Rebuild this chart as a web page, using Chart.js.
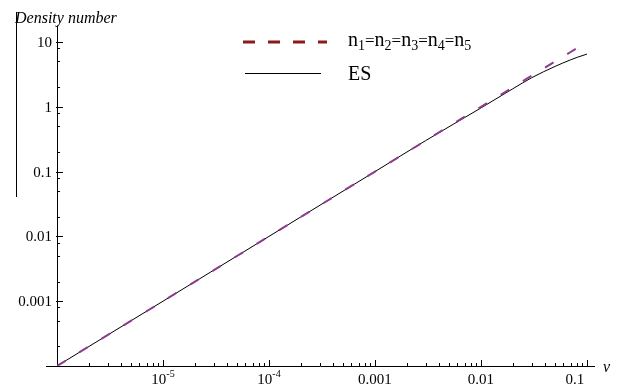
<!DOCTYPE html>
<html>
<head>
<meta charset="utf-8">
<script src="https://cdn.jsdelivr.net/npm/chart.js@4/dist/chart.umd.min.js"></script>
<style>
  body { margin: 0; background: #fff; }
  #wrap { width: 624px; height: 385px; }
</style>
</head>
<body>
<div id="wrap"><canvas id="densityChart"></canvas></div>
<script>
// values
const vValues = [1e-6, 1e-5, 1e-4, 1e-3, 3e-3, 0.01, 0.02, 0.03, 0.05, 0.07, 0.081, 0.1];
const nValues = [1e-4, 1e-3, 0.01, 0.1, 0.3, 1.0, 2.0, 3.0, 5.0, 7.0, 8.1, null];
const esValues = [1e-4, 1e-3, 0.01, 0.1, 0.3, 0.96, 1.9, 2.8, 4.2, 5.3, 5.8, 6.5];

// tick labels
const xTickValues = [1e-5, 1e-4, 1e-3, 1e-2, 1e-1];
const xTickLabels = [["10", "-5"], ["10", "-4"], ["0.001", ""], ["0.01", ""], ["0.1", ""]];
const yTickValues = [10, 1, 0.1, 0.01, 0.001];
const yTickLabels = ["10", "1", "0.1", "0.01", "0.001"];

const seriesNames = ["n1=n2=n3=n4=n5", "ES"];

const nPoints = vValues.map((v, i) => ({ x: v, y: nValues[i] })).filter(p => p.y !== null);
const esPoints = vValues.map((v, i) => ({ x: v, y: esValues[i] }));

const SERIF = '"Liberation Serif", "DejaVu Serif", serif';

// axes, ticks, labels and legend like the Mathematica original
const axesPlugin = {
  id: "mmaAxes",
  beforeDatasetsDraw(chart) {
    const ctx = chart.ctx;
    const xs = chart.scales.x;
    const ys = chart.scales.y;
    const x0 = xs.getPixelForValue(1e-6);
    const y0 = ys.getPixelForValue(1e-4);
    ctx.save();
    ctx.strokeStyle = "#000";
    ctx.lineWidth = 1;
    ctx.beginPath();
    ctx.moveTo(46, y0 + 0.5);
    ctx.lineTo(xs.right, y0 + 0.5);
    ctx.moveTo(x0 + 0.5, y0);
    ctx.lineTo(x0 + 0.5, ys.getPixelForValue(18));
    // stray frame line at left
    ctx.moveTo(16.5, 12);
    ctx.lineTo(16.5, 197);
    ctx.stroke();

    // x ticks
    ctx.beginPath();
    for (let e = -6; e <= -1; e++) {
      for (let m = 1; m <= 9; m++) {
        const v = m * Math.pow(10, e);
        if (v <= 1e-6 || v > xs.max) continue;
        const px = Math.round(xs.getPixelForValue(v)) + 0.5;
        const len = m === 1 ? 6 : 3;
        ctx.moveTo(px, y0);
        ctx.lineTo(px, y0 - len);
      }
    }
    // y ticks
    for (let e = -4; e <= 1; e++) {
      [1, 2, 5, 8].forEach(m => {
        const v = m * Math.pow(10, e);
        if (v <= 1e-4 || v > 12) return;
        const py = Math.round(ys.getPixelForValue(v)) + 0.5;
        ctx.moveTo(x0 - (m === 1 ? 1 : 0), py);
        ctx.lineTo(x0 + (m === 1 ? 6 : 3), py);
      });
    }
    ctx.stroke();

    // tick labels
    ctx.fillStyle = "#000";
    ctx.font = "15px " + SERIF;
    ctx.textAlign = "right";
    ctx.textBaseline = "middle";
    yTickValues.forEach((v, i) => {
      ctx.fillText(yTickLabels[i], 52, ys.getPixelForValue(v) + 1);
    });
    ctx.textBaseline = "alphabetic";
    xTickValues.forEach((v, i) => {
      const px = xs.getPixelForValue(v);
      const [base, sup] = xTickLabels[i];
      ctx.font = "15px " + SERIF;
      const wb = ctx.measureText(base).width;
      ctx.font = "10px " + SERIF;
      const ws = sup ? ctx.measureText(sup).width : 0;
      const left = px - (wb + ws) / 2 - (i === xTickValues.length - 1 ? 12 : 0);
      ctx.textAlign = "left";
      ctx.font = "15px " + SERIF;
      ctx.fillText(base, left, 384);
      if (sup) {
        ctx.font = "10px " + SERIF;
        ctx.fillText(sup, left + wb, 377);
      }
    });

    // axis titles
    ctx.font = "italic 16px " + SERIF;
    ctx.textAlign = "left";
    ctx.fillText("Density number", 15, 23);
    ctx.fillText("v", 603, 372);
    ctx.restore();
  },
  afterDraw(chart) {
    const ctx = chart.ctx;
    ctx.save();
    // legend: dashed sample
    ctx.strokeStyle = "#8b1a1a";
    ctx.lineWidth = 3;
    ctx.setLineDash([12, 13]);
    ctx.beginPath();
    ctx.moveTo(243, 42);
    ctx.lineTo(327, 42);
    ctx.stroke();
    ctx.setLineDash([]);
    ctx.strokeStyle = "#000";
    ctx.lineWidth = 1;
    ctx.beginPath();
    ctx.moveTo(245, 73.5);
    ctx.lineTo(321, 73.5);
    ctx.stroke();

    ctx.fillStyle = "#000";
    ctx.textAlign = "left";
    ctx.textBaseline = "alphabetic";
    // n1=n2=... with subscripts
    let x = 348;
    const parts = seriesNames[0].split("=");
    parts.forEach((p, i) => {
      ctx.font = "20px " + SERIF;
      ctx.fillText(p[0], x, 46);
      x += ctx.measureText(p[0]).width;
      ctx.font = "14px " + SERIF;
      ctx.fillText(p.slice(1), x, 50);
      x += ctx.measureText(p.slice(1)).width;
      if (i < parts.length - 1) {
        ctx.font = "17px " + SERIF;
        ctx.fillText("=", x, 46);
        x += ctx.measureText("=").width;
      }
    });
    ctx.font = "20px " + SERIF;
    ctx.fillText(seriesNames[1], 348, 80);
    ctx.restore();
  }
};

new Chart(document.getElementById("densityChart"), {
  type: "line",
  data: {
    datasets: [
      {
        label: seriesNames[0],
        data: nPoints,
        borderColor: "#8e3a8e",
        borderWidth: 2,
        borderDash: [10, 16],
        pointRadius: 0,
        fill: false,
        order: 0,
      },
      {
        label: seriesNames[1],
        data: esPoints,
        borderColor: "#000",
        borderWidth: 1,
        pointRadius: 0,
        cubicInterpolationMode: "monotone",
        fill: false,
        order: 1,
      },
    ],
  },
  options: {
    responsive: true,
    maintainAspectRatio: false,
    animation: false,
    layout: { padding: { left: 57, right: 29, top: 12, bottom: 19 } },
    plugins: { legend: { display: false }, tooltip: { enabled: false } },
    scales: {
      x: { type: "logarithmic", min: 1e-6, max: 0.119, display: false },
      y: { type: "logarithmic", min: 1e-4, max: 29, display: false },
    },
  },
  plugins: [axesPlugin],
});
</script>
</body>
</html>
